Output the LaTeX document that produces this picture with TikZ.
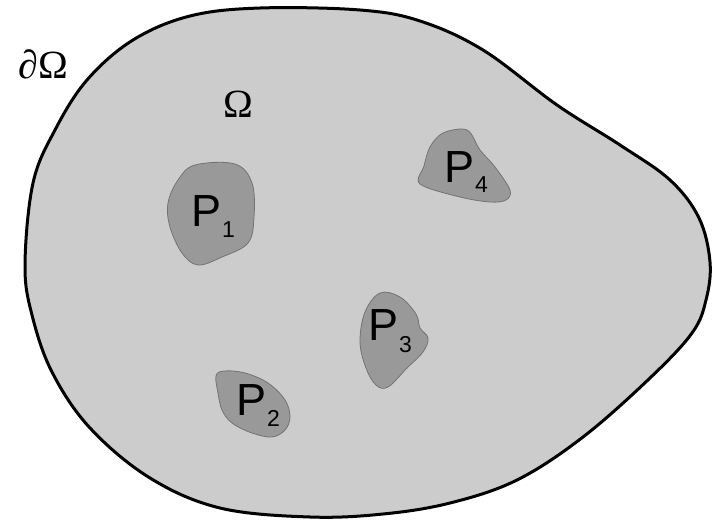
\documentclass[tikz,border=0pt]{standalone}
\usepackage{fontspec}
\setmainfont{Liberation Sans}
\newfontfamily\grserif{Liberation Serif}
\begin{document}
\begin{tikzpicture}[x=1pt,y=-1pt,
  regionshape/.style={fill=gray!40!white,draw=black,line width=3pt},
  hole/.style={fill=black!40,draw=black!55,line width=0.8pt},
  plabel/.style={anchor=base west,inner sep=0pt,font=\fontsize{45}{45}\selectfont},
  mlabel/.style={anchor=base,inner sep=0pt,font=\grserif\fontsize{40}{40}\selectfont}]
\useasboundingbox (0,0) rectangle (712,520);
% outer region
\draw[regionshape] plot[smooth cycle,tension=0.6] coordinates {
 (25,265) (33,183) (55,130) (87,80) (133,40) (190,16) (260,8) (360,10)
 (420,21) (483,50) (557,105) (620,145) (670,180) (699,218) (710,262)
 (706,300) (692,333) (650,378) (583,437) (517,480) (450,503) (383,514)
 (310,517) (220,508) (150,478) (90,428) (52,372) (32,315)};
% inclusions
\draw[hole] plot[smooth cycle,tension=0.6] coordinates {
 (195,165) (235,164) (252,183) (254,217) (248,243) (222,257) (198,265)
 (182,253) (170,227) (168,203) (178,180)};
\draw[hole] plot[smooth cycle,tension=0.55] coordinates {
 (443,133) (467,130) (480,150) (495,167) (510,190) (506,200) (490,202)
 (460,197) (420,184) (424,166) (430,147)};
\draw[hole] plot[smooth cycle,tension=0.6] coordinates {
 (380,293) (400,297) (416,314) (420,328) (428,338) (423,352) (407,368)
 (388,387) (376,385) (366,368) (360,342) (365,312)};
\draw[hole] plot[smooth cycle,tension=0.6] coordinates {
 (216,376) (224,371) (245,373) (268,383) (285,400) (290,417) (285,430)
 (272,437) (252,433) (232,423) (222,410) (218,393)};
% labels
\node[mlabel] (bd) at (43,78) {∂Ω};
\node[mlabel] (om) at (238,117) {Ω};
\node[plabel] (p1) at (191,226) {P\kern1pt\raisebox{-11pt}{\fontsize{23}{23}\selectfont 1}};
\node[plabel] (p2) at (236,415) {P\kern1pt\raisebox{-11pt}{\fontsize{23}{23}\selectfont 2}};
\node[plabel] (p3) at (368,340) {P\kern1pt\raisebox{-12pt}{\fontsize{23}{23}\selectfont 3}};
\node[plabel] (p4) at (444,182) {P\kern1pt\raisebox{-10pt}{\fontsize{23}{23}\selectfont 4}};
\end{tikzpicture}
\end{document}
